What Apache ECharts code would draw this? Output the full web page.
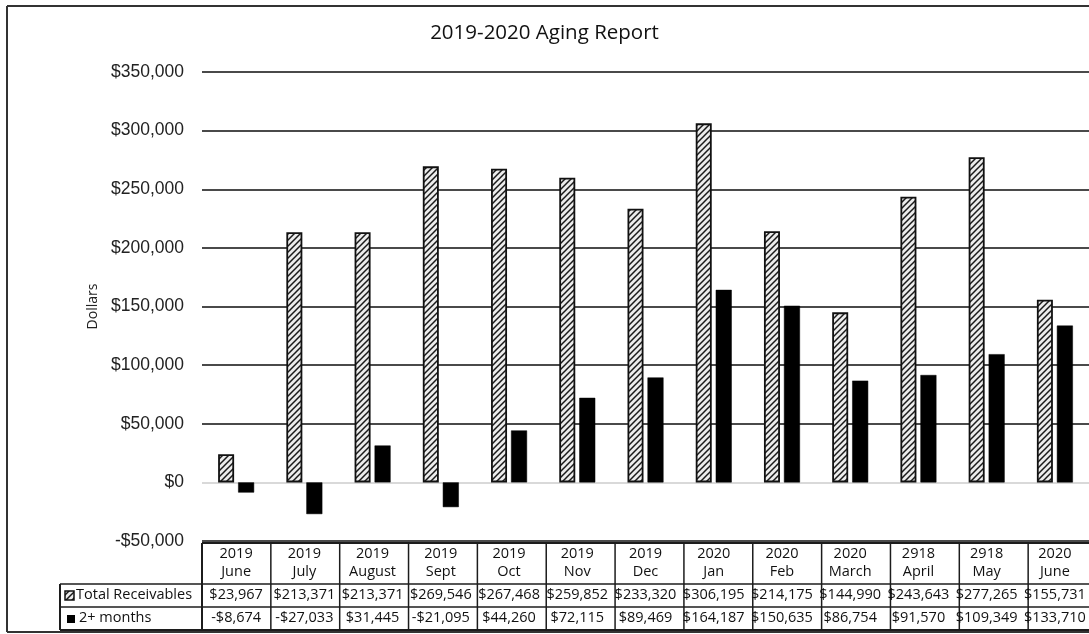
<!DOCTYPE html>
<html>
<head>
<meta charset="utf-8">
<title>2019-2020 Aging Report</title>
<script src="https://cdn.jsdelivr.net/npm/echarts@6/dist/echarts.min.js"></script>
<style>
  html, body { margin: 0; padding: 0; background: #fff; }
  #chart { width: 1089px; height: 634px; }
</style>
</head>
<body>
<div id="chart"></div>
<script>
// Month columns: year on the first header line, month on the second
const years = ['2019', '2019', '2019', '2019', '2019', '2019', '2019', '2020', '2020', '2020', '2918', '2918', '2020'];
const months = ['June', 'July', 'August', 'Sept', 'Oct', 'Nov', 'Dec', 'Jan', 'Feb', 'March', 'April', 'May', 'June'];

// Series values (dollars)
const totalReceivables = [23967, 213371, 213371, 269546, 267468, 259852, 233320, 306195, 214175, 144990, 243643, 277265, 155731];
const twoPlusMonths = [-8674, -27033, 31445, -21095, 44260, 72115, 89469, 164187, 150635, 86754, 91570, 109349, 133710];

// Value axis ticks
const yMin = -50000;
const yMax = 350000;
const yStep = 50000;

const seriesNames = ['Total Receivables', '2+ months'];

const categories = years.map((y, i) => y + ' ' + months[i]);

// Diagonal hatch fill for the receivables bars
function makeHatch() {
  const c = document.createElement('canvas');
  const s = 6;
  c.width = s; c.height = s;
  const ctx = c.getContext('2d');
  ctx.fillStyle = '#ececec';
  ctx.fillRect(0, 0, s, s);
  ctx.strokeStyle = '#1a1a1a';
  ctx.lineWidth = 1.5;
  ctx.beginPath();
  ctx.moveTo(0, s); ctx.lineTo(s, 0);
  ctx.moveTo(-1, 1); ctx.lineTo(1, -1);
  ctx.moveTo(s - 1, s + 1); ctx.lineTo(s + 1, s - 1);
  ctx.stroke();
  return c;
}
const hatch = { image: makeHatch(), repeat: 'repeat' };

function money(v) {
  const abs = Math.abs(v).toLocaleString('en-US');
  return (v < 0 ? '-$' : '$') + abs;
}

const GRID_LEFT = 202;
const GRID_WIDTH = 895;
const GRID_TOP = 72;
const GRID_HEIGHT = 469;
const TEXT_FONT = 'Open Sans';

const chart = echarts.init(document.getElementById('chart'), null, { renderer: 'canvas' });

const splitColors = [];
for (let v = yMin; v < yMax; v += yStep) {
  splitColors.push(v === 0 ? '#d9d9d9' : '#4a4a4a');
}

chart.setOption({
  backgroundColor: '#ffffff',
  animation: false,
  title: {
    text: '2019-2020 Aging Report',
    left: 'center',
    top: 18,
    textStyle: { fontFamily: TEXT_FONT, fontSize: 20.5, fontWeight: 'normal', color: '#111' }
  },
  grid: { left: GRID_LEFT, top: GRID_TOP, width: GRID_WIDTH, height: GRID_HEIGHT, containLabel: false },
  xAxis: {
    type: 'category',
    data: categories,
    axisLine: { show: false },
    axisTick: { show: false },
    axisLabel: { show: false },
    splitLine: { show: false }
  },
  yAxis: {
    type: 'value',
    min: yMin,
    max: yMax,
    interval: yStep,
    name: 'Dollars',
    nameLocation: 'middle',
    nameRotate: 90,
    nameGap: 101,
    nameTextStyle: { fontFamily: TEXT_FONT, fontSize: 14, color: '#222' },
    axisLine: { show: false },
    axisTick: { show: false },
    axisLabel: {
      margin: 18,
      fontFamily: 'Liberation Sans',
      fontSize: 17.5,
      color: '#222',
      formatter: v => money(v)
    },
    splitLine: { show: true, lineStyle: { color: splitColors, width: 2 } }
  },
  series: [
    {
      name: seriesNames[0],
      type: 'bar',
      data: totalReceivables,
      barWidth: 16,
      barGap: '25%',
      itemStyle: { color: hatch, borderColor: '#111', borderWidth: 1.8 }
    },
    {
      name: seriesNames[1],
      type: 'bar',
      data: twoPlusMonths,
      barWidth: 16,
      itemStyle: { color: '#000', borderColor: '#000', borderWidth: 0.5 }
    }
  ]
});

// Data table under the plot, aligned to the category bands
function buildTable() {
  const band = GRID_WIDTH / categories.length;
  const left0 = GRID_LEFT;
  const yHeadTop = 543, yRow1 = 584, yRow2 = 607, yBottom = 630;
  const legendLeft = 60;
  const lineStyle = { stroke: '#1c1c1c', lineWidth: 1.5 };
  const font = '14.5px "' + TEXT_FONT + '"';
  const els = [];
  const line = (x1, y1, x2, y2, w) => els.push({
    type: 'line', silent: true,
    shape: { x1, y1, x2, y2 },
    style: Object.assign({}, lineStyle, w ? { lineWidth: w } : {})
  });
  const text = (x, y, str, align) => els.push({
    type: 'text', silent: true, x, y,
    style: { text: str, font, fill: '#111', align: align || 'center', verticalAlign: 'middle' }
  });

  const right = left0 + band * categories.length;
  // horizontal rules
  line(left0, yHeadTop, right, yHeadTop, 2);
  line(legendLeft, yRow1, right, yRow1);
  line(legendLeft, yRow2, right, yRow2);
  line(legendLeft, yBottom, right, yBottom, 2);
  // vertical rules
  line(legendLeft, yRow1, legendLeft, yBottom, 2);
  for (let i = 0; i <= categories.length; i++) {
    const x = left0 + band * i;
    line(x, yHeadTop, x, yBottom, i === 0 ? 2 : 1.5);
  }
  // header and values
  for (let i = 0; i < categories.length; i++) {
    const cx = chart.convertToPixel({ xAxisIndex: 0 }, i);
    text(cx, 554, years[i]);
    text(cx, 572, months[i]);
    text(cx, 595, money(totalReceivables[i]));
    text(cx, 618, money(twoPlusMonths[i]));
  }
  // legend keys
  els.push({
    type: 'rect', silent: true,
    shape: { x: 65, y: 591, width: 9, height: 9 },
    style: { fill: hatch, stroke: '#111', lineWidth: 1.5 }
  });
  els.push({
    type: 'rect', silent: true,
    shape: { x: 67, y: 615, width: 8, height: 8 },
    style: { fill: '#000' }
  });
  text(76, 595, seriesNames[0], 'left');
  text(79, 618, seriesNames[1], 'left');

  // chart frame
  els.push({ type: 'line', silent: true, shape: { x1: 7, y1: 6, x2: 1089, y2: 6 }, style: { stroke: '#333', lineWidth: 2 } });
  els.push({ type: 'line', silent: true, shape: { x1: 7, y1: 6, x2: 7, y2: 632 }, style: { stroke: '#333', lineWidth: 2 } });
  els.push({ type: 'line', silent: true, shape: { x1: 7, y1: 632, x2: 1089, y2: 632 }, style: { stroke: '#333', lineWidth: 2 } });

  chart.setOption({ graphic: { elements: els } });
}
buildTable();
</script>
</body>
</html>
